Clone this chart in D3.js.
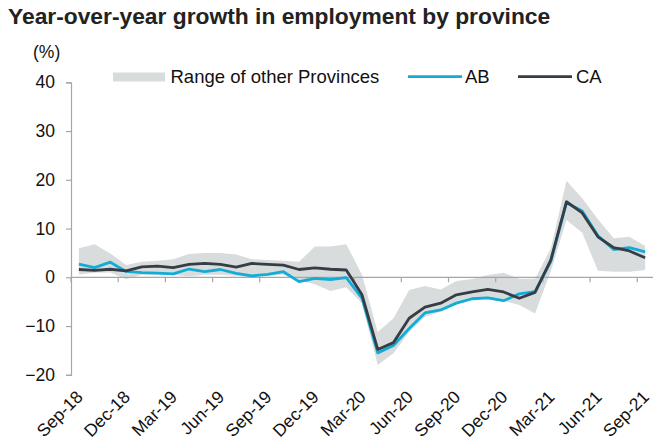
<!DOCTYPE html>
<html>
<head>
<meta charset="utf-8">
<script src="https://cdn.jsdelivr.net/npm/d3@7"></script>
<style>
  html, body { margin: 0; padding: 0; background: #fff; }
  svg { display: block; font-family: "Liberation Sans", Arial, sans-serif; }
</style>
</head>
<body>
<svg id="chart" width="662" height="448"></svg>
<script>
const months = ["Sep-18","Oct-18","Nov-18","Dec-18","Jan-19","Feb-19","Mar-19","Apr-19","May-19","Jun-19","Jul-19","Aug-19",
  "Sep-19","Oct-19","Nov-19","Dec-19","Jan-20","Feb-20","Mar-20","Apr-20","May-20","Jun-20","Jul-20","Aug-20",
  "Sep-20","Oct-20","Nov-20","Dec-20","Jan-21","Feb-21","Mar-21","Apr-21","May-21","Jun-21","Jul-21","Aug-21","Sep-21"];

const abValues = [2.7, 2.0, 3.1, 1.2, 0.95, 0.85, 0.7, 1.7, 1.15, 1.6, 0.8, 0.3,
  0.6, 1.15, -0.9, -0.2, -0.45, -0.05, -4.3, -15.5, -14.0, -10.5, -7.3, -6.7,
  -5.3, -4.4, -4.2, -4.8, -3.4, -2.95, 3.2, 15.3, 13.6, 8.5, 5.7, 6.1, 5.2];

const caValues = [1.6, 1.4, 1.65, 1.3, 2.15, 2.3, 2.0, 2.65, 2.85, 2.65, 2.1, 2.85,
  2.65, 2.5, 1.6, 1.95, 1.65, 1.5, -3.6, -14.8, -13.4, -8.4, -6.1, -5.3,
  -3.6, -3.0, -2.5, -3.0, -4.3, -3.1, 3.5, 15.5, 13.2, 8.3, 6.1, 5.4, 4.0];

const rangeHigh = [5.95, 6.8, 4.9, 2.5, 3.2, 3.4, 3.7, 4.8, 5.0, 5.0, 4.7, 3.7,
  3.55, 3.4, 3.2, 6.3, 6.3, 6.8, 0.5, -11.2, -8.4, -2.6, -1.8, -2.5,
  -0.76, -0.35, 0.47, 0.95, -0.3, -0.3, 5.9, 19.8, 16.2, 11.9, 8.0, 8.3, 6.4];

const rangeLow = [0.6, 0.95, 1.0, -0.4, 0.5, 0.5, 0.5, 0.15, 0.5, 0.5, 0.3, 0.0,
  0.3, 0.5, -0.55, -1.4, -2.8, -2.05, -5.3, -18.0, -15.6, -11.2, -8.1, -7.05,
  -5.5, -4.66, -4.3, -4.8, -5.7, -7.4, 1.2, 11.75, 9.15, 1.36, 1.15, 1.15, 1.5];

const yTicks = [-20, -10, 0, 10, 20, 30, 40];
const xTickLabels = ["Sep-18","Dec-18","Mar-19","Jun-19","Sep-19","Dec-19","Mar-20","Jun-20","Sep-20","Dec-20","Mar-21","Jun-21","Sep-21"];

const title = "Year-over-year growth in employment by province";
const unitLabel = "(%)";
const legendLabels = ["Range of other Provinces", "AB", "CA"];

const colors = { band: "#d9dcdd", ab: "#13acd6", ca: "#363d45", axis: "#a6a6a6", text: "#111" };

const svg = d3.select("#chart");

const x = d3.scaleBand().domain(months).range([71, 653]).padding(0);
const y = d3.scaleLinear().domain([-20, 40]).range([374.8, 82.3]);
const cx = d => x(d) + x.bandwidth() / 2;

const rows = months.map((m, i) => ({ m, ab: abValues[i], ca: caValues[i], hi: rangeHigh[i], lo: rangeLow[i] }));

// Title
svg.append("text").attr("x", 8).attr("y", 24)
  .attr("font-size", 22.8).attr("font-weight", "bold").attr("fill", "#222")
  .text(title);

// Unit label
svg.append("text").attr("x", 33).attr("y", 58)
  .attr("font-size", 17.5).attr("fill", colors.text).text(unitLabel);

// Range band
svg.append("path").datum(rows)
  .attr("fill", colors.band)
  .attr("d", d3.area().x(d => cx(d.m)).y0(d => y(d.lo)).y1(d => y(d.hi)));

// Y axis
const yAxis = d3.axisLeft(y).tickValues(yTicks).tickSize(5).tickPadding(11).tickFormat(d3.format("d"));
const gy = svg.append("g").attr("transform", "translate(71,0)").call(yAxis);
gy.select(".domain").attr("stroke", colors.axis).attr("stroke-width", 1.2);
gy.selectAll(".tick line").attr("stroke", colors.axis).attr("stroke-width", 1.2);
gy.selectAll(".tick text").attr("font-size", 17.5).attr("fill", colors.text)
  .attr("font-family", "'Liberation Sans', Arial, sans-serif");

// X axis (at zero)
const xAxis = d3.axisBottom(x).tickValues(xTickLabels).tickSize(5).tickFormat("");
const gx = svg.append("g").attr("transform", `translate(0,${y(0)})`).call(xAxis);
gx.select(".domain").attr("stroke", colors.axis).attr("stroke-width", 1.2).attr("d", `M71,0H653`);
gx.selectAll(".tick").attr("transform", d => `translate(${x(d)},0)`);
gx.selectAll(".tick line").attr("stroke", colors.axis).attr("stroke-width", 1.2);

// X labels at bottom, rotated
svg.append("g").selectAll("text").data(xTickLabels).join("text")
  .attr("transform", d => `translate(${cx(d) + 5},398) rotate(-45)`)
  .attr("text-anchor", "end")
  .attr("font-size", 17.5).attr("fill", colors.text)
  .text(d => d);

// Lines
const line = key => d3.line().x(d => cx(d.m)).y(d => y(d[key]));
svg.append("path").datum(rows).attr("fill", "none").attr("stroke", colors.ab)
  .attr("stroke-width", 2.8).attr("stroke-linejoin", "round").attr("d", line("ab"));
svg.append("path").datum(rows).attr("fill", "none").attr("stroke", colors.ca)
  .attr("stroke-width", 2.8).attr("stroke-linejoin", "round").attr("d", line("ca"));

// Legend
const lg = svg.append("g").attr("font-size", 18.5).attr("fill", colors.text);
lg.append("rect").attr("x", 113).attr("y", 72.5).attr("width", 52).attr("height", 9).attr("fill", colors.band);
lg.append("text").attr("x", 170.5).attr("y", 83.3).text(legendLabels[0]);
lg.append("line").attr("x1", 408).attr("x2", 462).attr("y1", 76.7).attr("y2", 76.7).attr("stroke", colors.ab).attr("stroke-width", 2.8);
lg.append("text").attr("x", 465).attr("y", 83.3).text(legendLabels[1]);
lg.append("line").attr("x1", 518).attr("x2", 572).attr("y1", 76.7).attr("y2", 76.7).attr("stroke", colors.ca).attr("stroke-width", 2.8);
lg.append("text").attr("x", 576).attr("y", 83.3).text(legendLabels[2]);
</script>
</body>
</html>
